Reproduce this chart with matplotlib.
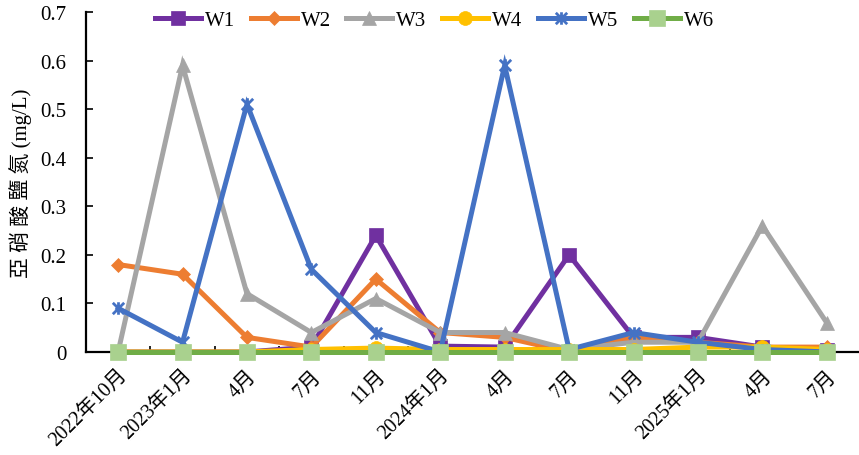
import matplotlib
matplotlib.use("Agg")
import matplotlib.pyplot as plt
from matplotlib.path import Path
import numpy as np

plt.rcParams['font.family'] = ['Liberation Serif', 'Noto Sans CJK TC']

categories = ["2022年10月", "2023年1月", "4月", "7月", "11月", "2024年1月",
              "4月", "7月", "11月", "2025年1月", "4月", "7月"]

w1 = [0.0, 0.0, 0.0, 0.01, 0.24, 0.012, 0.01, 0.20, 0.03, 0.03, 0.01, 0.005]
w2 = [0.18, 0.16, 0.03, 0.01, 0.15, 0.04, 0.03, 0.0, 0.03, 0.02, 0.01, 0.01]
w3 = [0.0, 0.59, 0.12, 0.04, 0.11, 0.04, 0.04, 0.005, 0.02, 0.02, 0.26, 0.06]
w4 = [0.0, 0.0, 0.0, 0.005, 0.008, 0.005, 0.005, 0.005, 0.005, 0.01, 0.01, 0.005]
w5 = [0.09, 0.02, 0.51, 0.17, 0.04, 0.0, 0.59, 0.005, 0.04, 0.02, 0.005, 0.0]
w6 = [0.0] * 12

# asterisk-style marker: an "x" with a vertical stroke through it
star = Path([(-1, -1), (1, 1), (-1, 1), (1, -1), (0, -1.1), (0, 1.1)],
            [Path.MOVETO, Path.LINETO, Path.MOVETO, Path.LINETO, Path.MOVETO, Path.LINETO])

series = [
    ("W1", w1, "#7030A0", "#7030A0", "s", 10),
    ("W2", w2, "#ED7D31", "#ED7D31", "D", 7.5),
    ("W3", w3, "#A5A5A5", "#A5A5A5", "^", 10),
    ("W4", w4, "#FFC000", "#FFC000", "o", 10),
    ("W5", w5, "#4472C4", "#4472C4", star, 9),
    ("W6", w6, "#70AD47", "#A9D18E", "s", 11),
]

fig = plt.figure(figsize=(8.59, 4.56), dpi=100)
ax = fig.add_axes([0.1, 0.226, 0.9, 0.7455])

x = np.arange(len(categories))
for name, vals, color, mface, marker, ms in series:
    ax.plot(x, vals, color=color, lw=3.6, marker=marker, markersize=ms,
            markerfacecolor=mface, markeredgecolor=mface,
            markeredgewidth=2 if marker is star else 0.5,
            label=name, clip_on=False, zorder=3, solid_joinstyle='miter')

ax.set_xlim(-0.5, len(categories) - 0.5)
ax.set_ylim(0, 0.7)
ax.set_yticks(np.arange(0, 0.71, 0.1))
ax.set_yticklabels(["0"] + [f"{v:.1f}" for v in np.arange(0.1, 0.71, 0.1)])
ax.set_xticks(x)
ax.set_xticklabels(categories, rotation=45, ha="right", rotation_mode="anchor")
ax.set_xticks(np.arange(0.5, len(categories) - 0.5, 1), minor=True)
ax.tick_params(axis="x", which="major", length=0, labelsize=14.5, pad=10)
ax.tick_params(axis="x", which="minor", length=4, direction="in", width=1.2)
ax.tick_params(axis="y", length=5, direction="in", width=1.2, labelsize=15, pad=14)

for side in ("top", "right"):
    ax.spines[side].set_visible(False)
for side in ("left", "bottom"):
    ax.spines[side].set_linewidth(1.6)

ax.set_ylabel("亞 硝 酸 鹽 氮 (mg/L)", fontsize=15, labelpad=6)

ax.legend(loc="upper center", bbox_to_anchor=(0.451, 1.06), ncol=6, frameon=False,
          fontsize=15, handlelength=2.2, handletextpad=0.2, columnspacing=0.75)

fig.savefig("out.png", dpi=100)
